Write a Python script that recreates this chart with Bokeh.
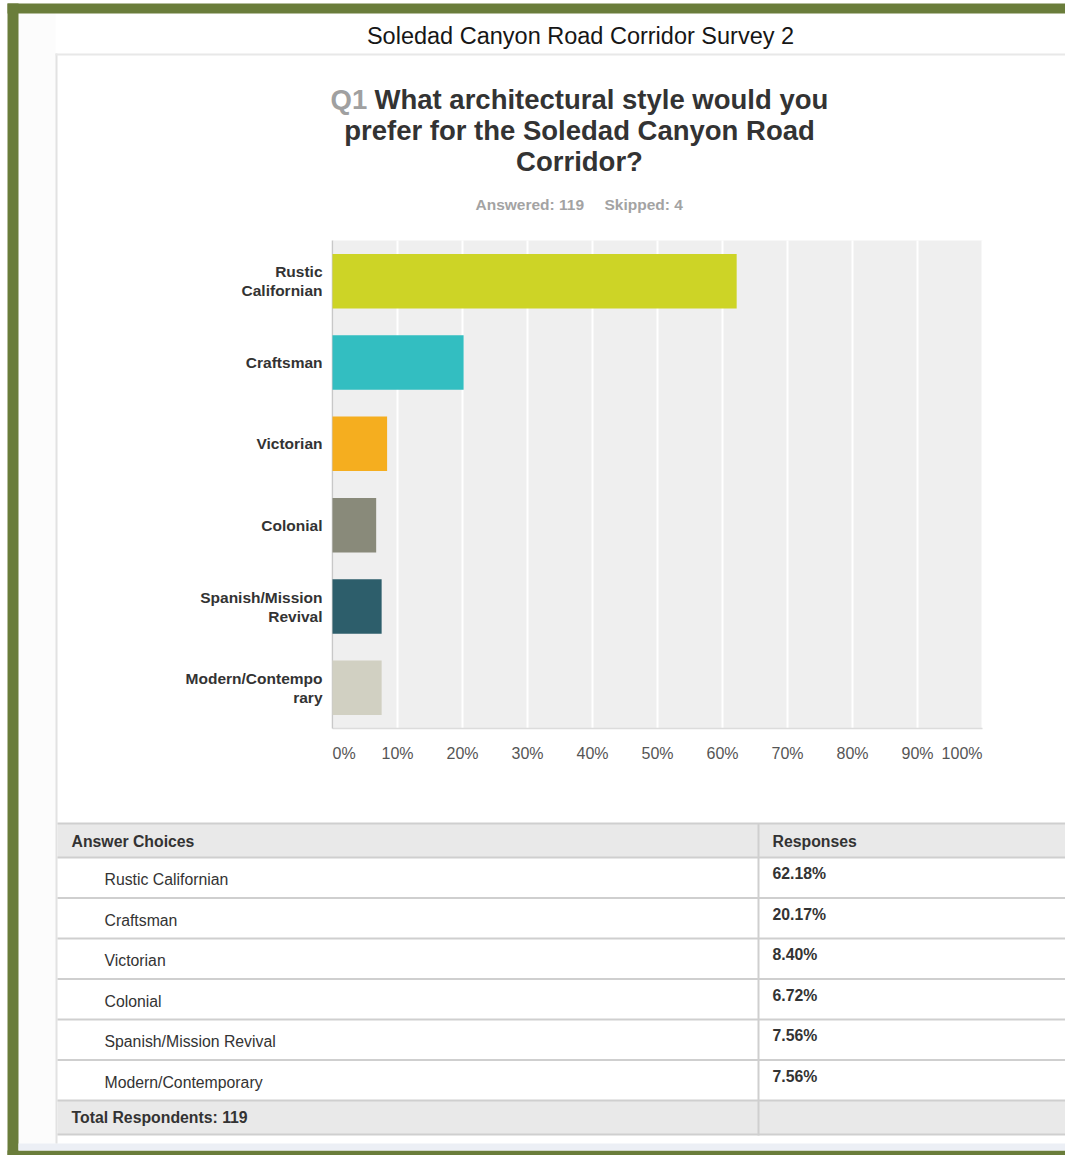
from bokeh.plotting import figure
from bokeh.models import Range1d, ColumnDataSource
from bokeh.core.properties import value
from bokeh.embed import file_html
from bokeh.resources import INLINE

# ---------------- data ----------------
categories = ["Rustic Californian", "Craftsman", "Victorian", "Colonial",
              "Spanish/Mission Revival", "Modern/Contemporary"]
axis_labels = ["Rustic\nCalifornian", "Craftsman", "Victorian", "Colonial",
               "Spanish/Mission\nRevival", "Modern/Contempo\nrary"]
percent = [62.18, 20.17, 8.40, 6.72, 7.56, 7.56]
bar_colors = ["#cdd426", "#33bec1", "#f5ae1f", "#898a7a", "#2d5e6b", "#d1d0c2"]
x_ticks = [0, 10, 20, 30, 40, 50, 60, 70, 80, 90, 100]
x_tick_labels = ["0%", "10%", "20%", "30%", "40%", "50%", "60%", "70%", "80%", "90%", "100%"]
answered = 119
skipped = 4
page_title = "Soledad Canyon Road Corridor Survey 2"
question_lines = ["What architectural style would you",
                  "prefer for the Soledad Canyon Road",
                  "Corridor?"]

# ---------------- layout constants (pixels) ----------------
W, H = 1065, 1155
FX0, FX1, FY0, FY1 = 332, 982, 240, 728     # plot area on the page
FONT = "Liberation Sans"
GREEN = "#6a7d3b"
TXT = "#333333"
NC = len(categories)

# value scale: 0..100 %, category scale: 0..NC slots (first category on top)
XMIN, XMAX = 0, 100


def px2x(px):
    return XMIN + (px - FX0) / (FX1 - FX0) * (XMAX - XMIN)


def py2y(py):
    return (FY1 - py) / (FY1 - FY0) * NC


p = figure(width=W, height=H, title=None,
           x_range=Range1d(px2x(0), px2x(W)),
           y_range=Range1d(py2y(H), py2y(0)),
           x_axis_type=None, y_axis_type=None,
           output_backend="svg", toolbar_location=None,
           min_border=0, min_border_left=0, min_border_right=0,
           min_border_top=0, min_border_bottom=0)
p.background_fill_color = "#ffffff"
p.border_fill_color = "#ffffff"
p.outline_line_color = None
p.grid.visible = False


def rect(l, t, r, b, color):
    p.quad(left=px2x(l), right=px2x(r), top=py2y(t), bottom=py2y(b),
           fill_color=color, line_color=None)


def txt(px, py, s, size, color, bold=False, align="left"):
    p.text(x=[px2x(px)], y=[py2y(py)], text=[s], text_font=value(FONT),
           text_font_size=value(f"{size}px"), text_color=color,
           text_font_style="bold" if bold else "normal",
           text_align=align, text_baseline="middle")


# ---------------- page frame ----------------
rect(18, 13, 55, 1143, "#fcfcfc")
rect(7, 3, W, 13, GREEN)
rect(7, 3, 18, H, GREEN)
rect(7, 1150, W, H, GREEN)
rect(18, 1143, W, 1150, "#eceff5")
rect(55, 53, 57, 1143, "#e2e2e2")
rect(55, 53, W, 55, "#e8e8e8")

# ---------------- chart ----------------
y_pos = [NC - 0.5 - i for i in range(NC)]

p.quad(left=XMIN, right=XMAX, bottom=0, top=NC, fill_color="#efefef", line_color=None)
p.segment(x0=x_ticks, x1=x_ticks, y0=[0] * len(x_ticks), y1=[NC] * len(x_ticks),
          line_color="#ffffff", line_width=2)
p.segment(x0=[XMIN], x1=[XMAX], y0=[0], y1=[0], line_color="#dcdcdc", line_width=1.5)
p.segment(x0=[XMIN], x1=[XMIN], y0=[0], y1=[NC], line_color="#c8c8c8", line_width=1.5)

src = ColumnDataSource(dict(y=y_pos, val=percent, color=bar_colors, cat=categories))
p.hbar(y="y", left=0, right="val", height=0.67, fill_color="color",
       line_color=None, source=src)

# category labels (multi-line, right aligned left of the axis)
lx, ly, lt, lo = [], [], [], []
for yc, lab in zip(y_pos, axis_labels):
    parts = lab.split("\n")
    n = len(parts)
    for j, part in enumerate(parts):
        lx.append(XMIN)
        ly.append(yc)
        lt.append(part)
        lo.append((j - (n - 1) / 2) * 19)
p.text(x="x", y="y", text="t", y_offset="o",
       source=ColumnDataSource(dict(x=lx, y=ly, t=lt, o=lo)),
       x_offset=-10, text_font=value(FONT), text_font_size=value("15.5px"),
       text_font_style="bold", text_color=TXT, text_align="right",
       text_baseline="middle")

# value tick labels
aligns = ["center"] * len(x_ticks)
aligns[0], aligns[-1] = "left", "right"
p.text(x="x", y="y", text="t", text_align="a",
       source=ColumnDataSource(dict(x=x_ticks, y=[0] * len(x_ticks),
                                    t=x_tick_labels, a=aligns)),
       y_offset=25, text_font=value(FONT), text_font_size=value("16px"),
       text_color="#555555", text_baseline="middle")

# ---------------- titles ----------------
txt(580, 35, page_title, 23.5, "#161616", align="center")
txt(330, 99, "Q1", 27.5, "#a0a0a0", bold=True)
txt(374, 99, question_lines[0], 27.5, TXT, bold=True)
txt(579, 130, question_lines[1], 27.5, TXT, bold=True, align="center")
txt(579, 161, question_lines[2], 27.5, TXT, bold=True, align="center")
txt(475, 204, f"Answered: {answered}", 15.5, "#a3a3a3", bold=True)
txt(604, 204, f"Skipped: {skipped}", 15.5, "#a3a3a3", bold=True)

# ---------------- table ----------------
TT, HB = 823, 857
row_h = 40.5
rows_top = [HB + i * row_h for i in range(NC)]
foot_top = HB + NC * row_h
foot_bot = 1134
rect(57, TT, W, HB, "#e9e9e9")
rect(57, foot_top, W, foot_bot, "#e9e9e9")
for yy in [TT, HB] + rows_top[1:] + [foot_top, foot_bot]:
    rect(57, yy - 1, W, yy + 1, "#cfcfcf")
rect(757, TT, 759, foot_bot + 1, "#cfcfcf")

TS = 15.8
txt(71, 841, "Answer Choices", TS, TXT, bold=True)
txt(772, 841, "Responses", TS, TXT, bold=True)
for top, name, v in zip(rows_top, categories, percent):
    txt(104, top + 22, name, TS, TXT)
    txt(772, top + 16, f"{v:.2f}%", TS, TXT, bold=True)
txt(71, (foot_top + foot_bot) / 2, f"Total Respondents: {answered}", TS, TXT, bold=True)

open("out.html", "w").write(file_html(p, INLINE))
